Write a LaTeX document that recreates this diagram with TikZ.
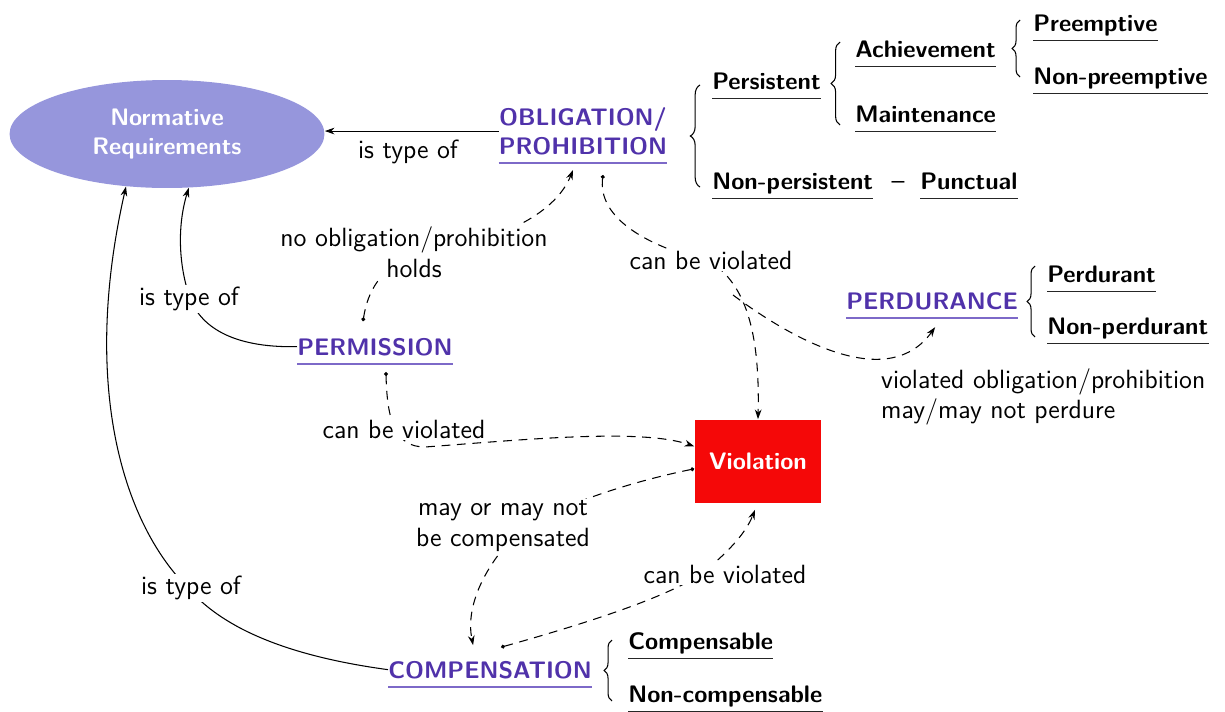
\documentclass[tikz,border=0pt]{standalone}
\usetikzlibrary{shapes.geometric,arrows.meta,decorations.pathreplacing,calc}
\definecolor{nrfill}{RGB}{150,150,220}
\definecolor{cpurple}{RGB}{80,50,170}
\definecolor{ulpurple}{RGB}{125,105,200}
\definecolor{vred}{RGB}{245,8,8}
\begin{document}
\begin{tikzpicture}[x=0.02cm,y=-0.02cm,
  txt/.style={font=\fontsize{15}{17.5}\selectfont\sffamily},
  bold/.style={font=\fontsize{13.6}{16.5}\selectfont\sffamily\bfseries},
  lbl/.style={txt, fill=white, inner sep=1pt, align=center},
  cls/.style={bold, text=cpurple, inner xsep=0pt, inner ysep=1.5pt, text height=13pt, text depth=3.5pt, anchor=base west},
  sub/.style={bold, text=black, inner xsep=0pt, inner ysep=1.5pt, text height=13pt, text depth=3.5pt, anchor=base west},
  ulp/.style={draw=ulpurple, line width=0.8pt},
  ulb/.style={draw=black!85, line width=0.6pt},
  solidarrow/.style={-{Stealth[length=5.5pt,width=3.8pt]}, line width=0.6pt},
  dasharrow/.style={{Circle[length=2.2pt]}-{Stealth[length=5.5pt,width=3.8pt]}, line width=0.6pt, dash pattern=on 5pt off 3.8pt},
  dashonly/.style={-{Stealth[length=5.5pt,width=3.8pt]}, line width=0.6pt, dash pattern=on 5pt off 3.8pt},
  brc/.style={decorate, decoration={brace, amplitude=#1}, line width=0.6pt}
]
\useasboundingbox (0,0) rectangle (1225,711);

% main nodes
\node[ellipse, fill=nrfill, minimum width=6.3cm, minimum height=2.16cm, inner sep=0pt,
      bold, text=white, align=center] (nr) at (167,134) {Normative\\Requirements};
\node[bold, text=cpurple, align=center, inner xsep=0pt, inner ysep=4.5pt, anchor=south] (obl) at (583,163) {OBLIGATION/\\PROHIBITION};
\node[cls] (perm) at (297,355) {PERMISSION};
\node[cls] (perd) at (846,309) {PERDURANCE};
\node[cls] (comp) at (388,678) {COMPENSATION};
\node[rectangle, fill=vred, minimum width=2.54cm, minimum height=1.66cm, bold, text=white] (viol) at (758,461) {Violation};

\node[sub] (pre) at (1033,31) {Preemptive};
\node[sub] (ach) at (855,57) {Achievement};
\node[sub] (npre) at (1033,84) {Non-preemptive};
\node[sub] (pers) at (712,89) {Persistent};
\node[sub] (main) at (855,122) {Maintenance};
\node[sub] (npers) at (712,189) {Non-persistent};
\node[txt, anchor=base] (dash) at (898,189) {--};
\node[sub] (punc) at (920,189) {Punctual};
\node[sub] (pdt) at (1047,282) {Perdurant};
\node[sub] (npdt) at (1047,334) {Non-perdurant};
\node[sub] (cmp) at (628,649) {Compensable};
\node[sub] (ncmp) at (628,702) {Non-compensable};

% underlines
\foreach \n in {obl,perm,perd,comp} \draw[ulp] (\n.south west) -- (\n.south east);
\foreach \n in {pre,ach,npre,pers,main,npers,punc,pdt,npdt,cmp,ncmp} \draw[ulb] (\n.south west) -- (\n.south east);

% braces
\draw[brc=5.5pt] (700,187) -- (700,85);
\draw[brc=5pt] (840,125) -- (840,42);
\draw[brc=4.5pt] (1020,77) -- (1020,20);
\draw[brc=4.5pt] (1035,337) -- (1035,266);
\draw[brc=4.5pt] (612,701) -- (612,640);

% is-type-of connectors
\draw[solidarrow] (obl.west) -- (obl.west -| nr.east);
\draw[solidarrow] (perm.west) .. controls (230,348) and (200,325) .. (190,298) .. controls (180,270) and (176,230) .. (nr.-68);
\draw[solidarrow] (comp.west) .. controls (280,655) and (220,625) .. (188,588) .. controls (120,520) and (82,380) .. (nr.-128);

% dashed connectors
\draw[dasharrow] ($(perm.north)+(-12,-8)$) .. controls (368,290) and (380,270) .. (414,252) .. controls (495,245) and (555,215) .. ($(obl.south)+(-10,7)$);
\draw[dasharrow] ($(obl.south)+(20,12)$) .. controls (598,215) and (640,245) .. (711,262) .. controls (745,285) and (760,330) .. (viol.north);
\coordinate (br) at (733,295);
\draw[dashonly] (br) .. controls (800,345) and (890,390) .. ($(perd.south)+(3,9)$);
\draw[dasharrow] ($(perm.south)+(11,8)$) .. controls (387,420) and (395,447) .. (425,447) .. controls (520,440) and (640,428) .. (viol.167);
\draw[dasharrow] (viol.187) .. controls (640,480) and (570,500) .. (520,530) .. controls (480,570) and (466,610) .. ($(comp.north)+(-17,-7)$);
\draw[dasharrow] ($(comp.north)+(11,-5)$) .. controls (580,625) and (660,600) .. (700,575) .. controls (725,555) and (745,535) .. ($(viol.south)+(-3,7)$);

% labels
\node[txt] (l1) at (408,152) {is type of};
\node[lbl] (l2) at (189,299) {is type of};
\node[lbl] (l3) at (191,588) {is type of};
\node[lbl] (l4) at (414,252) {no obligation/prohibition\\holds};
\node[lbl] (l5) at (711,260) {can be violated};
\node[lbl] (l6) at (404,429) {can be violated};
\node[lbl] (l7) at (503,526) {may or may not\\be compensated};
\node[lbl] (l8) at (725,574) {can be violated};
\node[txt, align=left, anchor=west] (l9) at (875,397) {violated obligation/prohibition\\may/may not perdure};
\end{tikzpicture}
\end{document}
